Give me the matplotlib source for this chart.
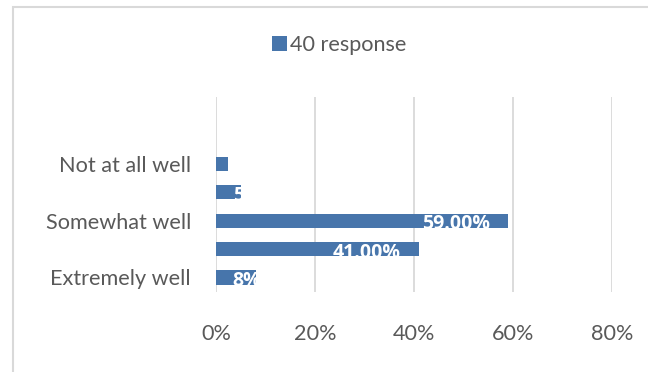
import matplotlib
matplotlib.use("Agg")
import matplotlib.pyplot as plt
from matplotlib.patches import Rectangle

# data (bottom to top as drawn)
categories = ["Extremely well", "", "Somewhat well", "", "Not at all well"]
values = [8, 41, 59, 5, 2.5]
labels = ["8%", "41.00%", "59.00%", "5%", ""]
series_name = "40 response"
xticks = [0, 20, 40, 60, 80]

bar_color = "#4775AB"
text_color = "#595959"
grid_color = "#D9D9D9"

plt.rcParams["font.family"] = ["Lato", "DejaVu Sans"]

fig = plt.figure(figsize=(6.48, 3.72), dpi=100)
W, H = 648, 372
ax = fig.add_axes([216 / W, 1 - 291.7 / H, (612 - 216) / W, (291.7 - 96.7) / H])

ypos = list(range(len(values)))
bars = ax.barh(ypos, values, height=0.5, color=bar_color, zorder=3)

# data labels, clipped to their bar like in the original
for bar, v, lab in zip(bars, values, labels):
    if not lab:
        continue
    y = bar.get_y() + bar.get_height() / 2
    if v > 20:
        t = ax.annotate(lab, (v, y), xytext=(-13, -2.5), textcoords="offset points",
                        ha="right", va="center", color="white", fontsize=14,
                        fontweight="bold", family=["Open Sans", "DejaVu Sans"], zorder=4)
    else:
        t = ax.annotate(lab, (0, y), xytext=(12, -2.5), textcoords="offset points",
                        ha="left", va="center", color="white", fontsize=14,
                        fontweight="bold", family=["Open Sans", "DejaVu Sans"], zorder=4)
    t.set_clip_path(bar)

ax.set_xlim(0, 80)
ax.set_ylim(-0.5, 6.36)
ax.set_xticks(xticks)
ax.set_xticklabels([f"{x}%" for x in xticks])
ax.set_yticks(ypos)
ax.set_yticklabels(categories)
ax.tick_params(axis="x", length=0, pad=23, labelsize=15.6, labelcolor=text_color)
ax.tick_params(axis="y", length=0, pad=18, labelsize=15.6, labelcolor=text_color)
ax.grid(axis="x", color=grid_color, linewidth=1.3, zorder=0)
for s in ax.spines.values():
    s.set_visible(False)

# legend
leg = ax.legend([bars[0]], [series_name], loc="center", bbox_to_anchor=(339 / W, 1 - 45 / H),
                bbox_transform=fig.transFigure, frameon=False, fontsize=15.6,
                handlelength=0.7, handleheight=0.7, handletextpad=0.15)
for t in leg.get_texts():
    t.set_color(text_color)

# chart border
fig.patches.append(Rectangle((13 / W, -0.05), 1.1, 1 - 6.5 / H + 0.05, transform=fig.transFigure,
                             fill=False, edgecolor=grid_color, linewidth=1.5))

fig.savefig("out.png", dpi=100)
